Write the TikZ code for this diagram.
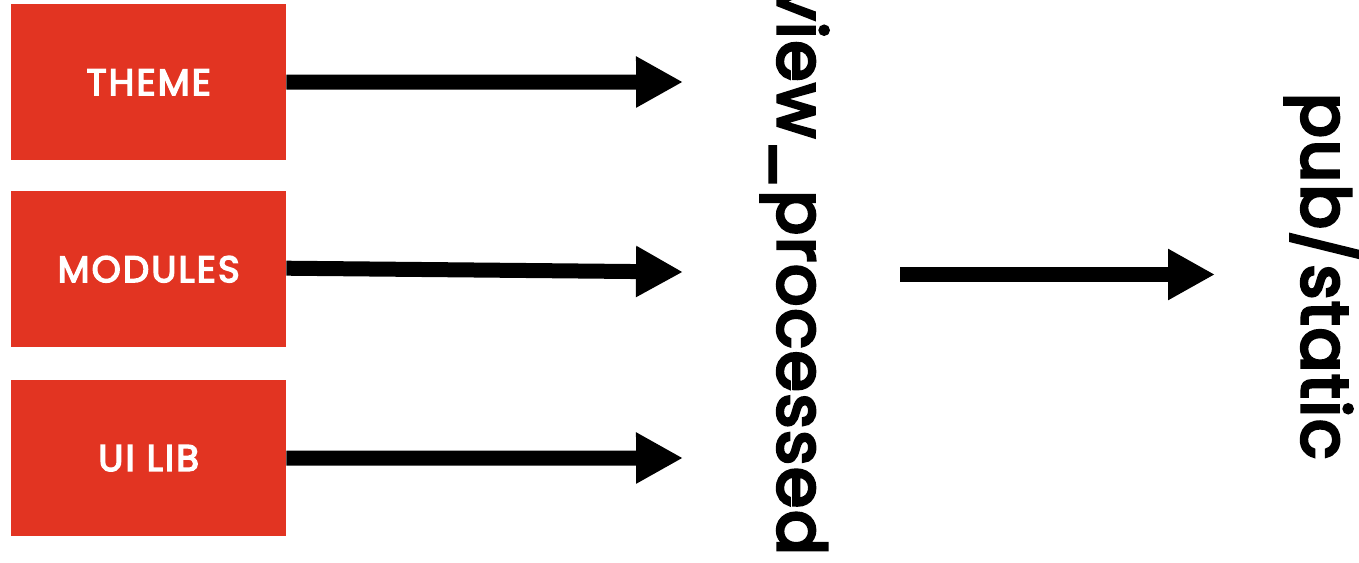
\documentclass[tikz,border=0pt]{standalone}
\usepackage{fontspec}
\setmainfont{Poppins}
\newfontfamily\medfont{Poppins}[FakeBold=5, LetterSpace=3.3]
\newfontfamily\labfont{Poppins}[FakeBold=4, LetterSpace=6]
\usetikzlibrary{arrows.meta}
\definecolor{boxred}{HTML}{E23422}
\begin{document}
\begin{tikzpicture}[x=1pt,y=-1pt,
  box/.style={fill=boxred, minimum width=275pt, minimum height=156pt, inner sep=0pt,
    text=white, font=\labfont\fontsize{37}{37}\selectfont, anchor=north west},
  conn/.style={line width=15pt, -{Triangle[length=47pt,width=48pt]}},
  big/.style={rotate=-90, inner sep=0pt, font=\medfont\fontsize{66}{66}\selectfont}]
\useasboundingbox (0,0) rectangle (1359,562);
\node[box] (theme) at (11,4) {THEME};
\node[box] (modules) at (11,191) {MODULES};
\node[box] (uilib) at (11,380) {UI LIB};
\node[big, anchor=base east] (view) at (778,555) {view\_processed};
\node[big, anchor=base west] (pub) at (1302,93) {pub/static};
\coordinate (t1) at (683,82);
\coordinate (t2) at (683,272);
\coordinate (t3) at (683,458);
\coordinate (s4) at (900,274.5);
\coordinate (t4) at (1215,274.5);
\draw[conn] (theme.east) -- (t1);
\draw[conn] (modules.east) ++(0,-1) -- (t2);
\draw[conn] (uilib.east) -- (t3);
\draw[conn] (s4) -- (t4);
\end{tikzpicture}
\end{document}
